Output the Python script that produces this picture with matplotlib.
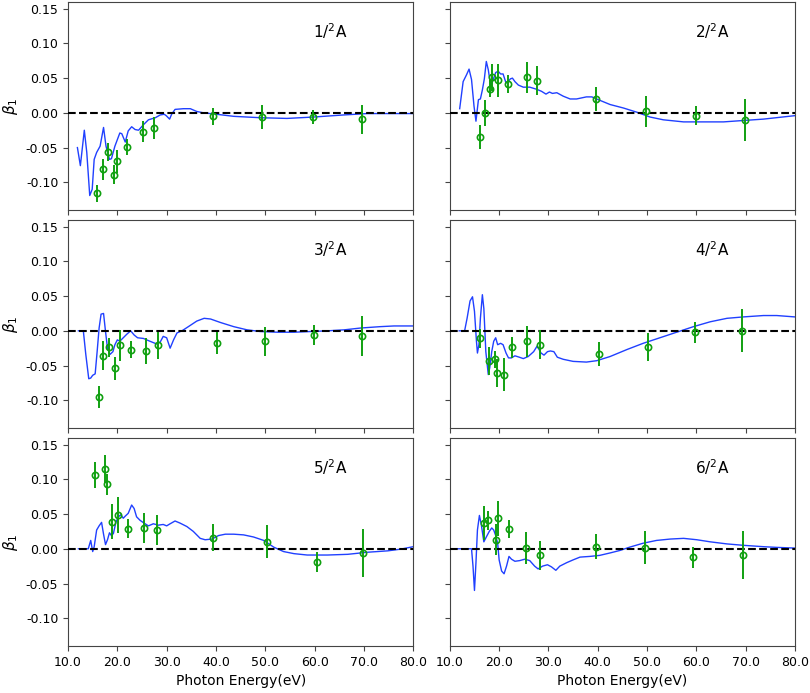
import matplotlib
matplotlib.use("Agg")
from matplotlib import pyplot as plt
from matplotlib.ticker import FormatStrFormatter, MultipleLocator

plt.rcParams["axes.unicode_minus"] = False

LABELS = ["1/$^2$A", "2/$^2$A", "3/$^2$A", "4/$^2$A", "5/$^2$A", "6/$^2$A"]

# --- panel 1 ---
exp_e1 = [15.9, 17.0, 18.1, 19.4, 20.0, 22.0, 25.1, 27.5, 39.4, 49.3, 59.6, 69.7]
exp_b1 = [-0.116, -0.081, -0.056, -0.089, -0.070, -0.049, -0.027, -0.022, -0.005, -0.006, -0.006, -0.009]
exp_err1 = [0.012, 0.015, 0.013, 0.014, 0.017, 0.011, 0.015, 0.016, 0.012, 0.017, 0.010, 0.021]
th_e1 = [11.9, 12.5, 13.3, 13.8, 14.4, 14.9, 15.3, 15.8, 16.5, 17.2, 17.7, 18.4, 18.8, 19.5,
         20.5, 20.9, 21.6, 22.2, 22.9, 23.6, 24.3, 25.3, 26.3, 27.7, 28.7, 29.5, 29.9, 30.6,
         31.0, 31.7, 33.4, 34.8, 36.1, 37.5, 39.5, 43.6, 49.0, 54.4, 59.8, 65.9, 70.7, 80.0]
th_b1 = [-0.050, -0.076, -0.025, -0.057, -0.119, -0.110, -0.067, -0.057, -0.048, -0.021,
         -0.048, -0.067, -0.066, -0.048, -0.029, -0.030, -0.042, -0.026, -0.020, -0.024,
         -0.025, -0.017, -0.010, -0.007, -0.003, -0.002, -0.004, -0.009, -0.002, 0.005,
         0.006, 0.006, 0.002, 0.000, -0.0015, -0.005, -0.007, -0.008, -0.006, -0.003,
         -0.001, -0.001]

# --- panel 2 ---
exp_e2 = [16.2, 17.1, 18.1, 18.6, 19.8, 21.7, 25.6, 27.6, 39.6, 49.7, 59.9, 69.9]
exp_b2 = [-0.035, 0.000, 0.035, 0.051, 0.047, 0.041, 0.051, 0.046, 0.020, 0.002, -0.004, -0.010]
exp_err2 = [0.017, 0.019, 0.012, 0.019, 0.024, 0.013, 0.022, 0.021, 0.017, 0.022, 0.014, 0.030]
th_e2 = [12.0, 12.7, 13.4, 13.9, 14.4, 14.9, 15.3, 15.8, 16.2, 16.6, 17.0, 17.4, 17.8, 18.3,
         18.8, 19.3, 19.8, 20.3, 20.8, 21.4, 21.8, 22.3, 22.7, 23.2, 23.9, 24.9, 26.2, 27.6,
         28.6, 29.5, 30.2, 30.8, 31.7, 33.0, 34.4, 35.7, 37.7, 38.8, 40.1, 42.5, 45.2, 47.9,
         50.6, 53.3, 57.4, 61.4, 65.5, 69.5, 73.6, 80.0]
th_b2 = [0.006, 0.045, 0.055, 0.063, 0.048, 0.010, -0.012, 0.019, 0.020, 0.033, 0.049, 0.074,
         0.062, 0.038, 0.048, 0.058, 0.060, 0.056, 0.056, 0.043, 0.045, 0.049, 0.050, 0.045,
         0.040, 0.037, 0.037, 0.034, 0.031, 0.027, 0.030, 0.028, 0.029, 0.024, 0.020, 0.020,
         0.023, 0.023, 0.019, 0.012, 0.007, 0.001, -0.006, -0.010, -0.013, -0.013, -0.013,
         -0.011, -0.009, -0.004]

# --- panel 3 ---
exp_e3 = [16.2, 17.0, 18.3, 19.6, 20.5, 22.8, 25.9, 28.2, 40.3, 49.9, 59.8, 69.7]
exp_b3 = [-0.095, -0.036, -0.024, -0.054, -0.021, -0.027, -0.029, -0.021, -0.018, -0.015, -0.006, -0.007]
exp_err3 = [0.016, 0.021, 0.013, 0.017, 0.022, 0.012, 0.019, 0.020, 0.016, 0.021, 0.015, 0.029]
th_e3 = [12.1, 13.1, 13.6, 14.2, 14.6, 15.0, 15.5, 15.9, 16.3, 16.7, 17.2, 17.6, 18.0, 18.5,
         19.1, 19.5, 20.0, 20.5, 21.2, 21.9, 22.7, 23.4, 24.1, 25.3, 26.6, 28.0, 28.7, 29.3,
         30.0, 30.7, 31.4, 32.1, 33.1, 34.4, 36.1, 37.6, 38.9, 40.9, 43.6, 46.3, 49.0, 52.4,
         55.8, 59.2, 62.6, 66.0, 69.3, 73.3, 76.1, 80.0]
th_b3 = [0.000, 0.000, -0.034, -0.069, -0.068, -0.064, -0.062, -0.030, 0.004, 0.024, 0.025,
         -0.001, -0.025, -0.034, -0.030, -0.020, -0.013, -0.015, -0.010, -0.005, 0.000, -0.006,
         -0.010, -0.011, -0.015, -0.019, -0.016, -0.008, -0.010, -0.025, -0.013, -0.003, 0.000,
         0.006, 0.014, 0.018, 0.017, 0.012, 0.006, 0.0014, -0.001, -0.002, -0.002, -0.001,
         0.000, 0.0014, 0.004, 0.006, 0.007, 0.007]

# --- panel 4 ---
exp_e4 = [16.2, 17.9, 19.1, 19.5, 21.0, 22.7, 25.6, 28.3, 40.3, 50.2, 59.8, 69.3]
exp_b4 = [-0.011, -0.043, -0.041, -0.061, -0.063, -0.024, -0.015, -0.020, -0.033, -0.023, -0.002, 0.000]
exp_err4 = [0.014, 0.020, 0.012, 0.020, 0.024, 0.015, 0.022, 0.021, 0.017, 0.020, 0.015, 0.031]
th_e4 = [11.9, 13.0, 13.5, 14.1, 14.6, 15.0, 15.4, 15.6, 15.9, 16.2, 16.6, 16.9, 17.3, 17.8,
         18.1, 18.5, 18.9, 19.3, 19.7, 20.3, 20.8, 21.4, 21.9, 22.5, 23.2, 24.1, 24.9, 25.9,
         27.0, 27.7, 28.5, 29.1, 29.8, 30.4, 31.1, 31.8, 33.0, 35.0, 37.7, 39.8, 42.5, 45.9,
         49.2, 52.6, 56.0, 59.4, 62.8, 66.2, 69.5, 73.6, 76.3, 80.0]
th_b4 = [0.000, 0.000, 0.018, 0.043, 0.049, 0.028, -0.015, -0.032, -0.020, 0.018, 0.052,
         0.032, -0.030, -0.063, -0.053, -0.030, -0.015, -0.010, -0.020, -0.018, -0.020, -0.032,
         -0.039, -0.039, -0.036, -0.038, -0.040, -0.037, -0.030, -0.022, -0.032, -0.035,
         -0.030, -0.029, -0.030, -0.038, -0.041, -0.044, -0.045, -0.043, -0.037, -0.027,
         -0.018, -0.010, -0.002, 0.006, 0.013, 0.018, 0.020, 0.022, 0.022, 0.020]

# --- panel 5 ---
exp_e5 = [15.5, 17.5, 17.8, 19.0, 20.1, 22.2, 25.4, 28.1, 39.4, 50.3, 60.4, 69.9]
exp_b5 = [0.106, 0.115, 0.093, 0.039, 0.048, 0.029, 0.030, 0.027, 0.016, 0.010, -0.019, -0.006]
exp_err5 = [0.019, 0.020, 0.015, 0.025, 0.026, 0.014, 0.021, 0.022, 0.019, 0.024, 0.015, 0.034]
th_e5 = [12.1, 14.1, 14.6, 15.0, 15.3, 15.8, 16.3, 16.8, 17.2, 17.6, 18.0, 18.4, 18.8, 19.2,
         19.7, 20.2, 20.7, 21.2, 21.6, 22.2, 22.9, 23.4, 23.9, 24.6, 25.4, 26.3, 27.3, 28.3,
         29.3, 30.0, 30.7, 31.7, 32.7, 34.1, 35.4, 36.8, 37.8, 39.2, 40.5, 41.9, 43.6, 45.6,
         47.6, 49.7, 51.7, 53.7, 55.8, 58.5, 62.6, 66.7, 70.7, 74.8, 77.5, 80.0]
th_b5 = [0.000, 0.000, 0.012, -0.004, 0.003, 0.027, 0.033, 0.038, 0.021, 0.006, 0.013, 0.023,
         0.019, 0.022, 0.038, 0.046, 0.049, 0.044, 0.047, 0.051, 0.063, 0.058, 0.046, 0.041,
         0.037, 0.033, 0.036, 0.034, 0.035, 0.033, 0.036, 0.040, 0.037, 0.032, 0.025, 0.015,
         0.013, 0.014, 0.019, 0.021, 0.021, 0.020, 0.017, 0.012, 0.0024, -0.004, -0.007,
         -0.009, -0.009, -0.008, -0.005, -0.003, -0.0005, 0.003]

# --- panel 6 ---
exp_e6 = [16.9, 17.7, 19.3, 19.7, 22.0, 25.5, 28.3, 39.6, 49.6, 59.4, 69.5]
exp_b6 = [0.037, 0.041, 0.013, 0.044, 0.029, 0.0014, -0.0095, 0.003, 0.0014, -0.012, -0.009]
exp_err6 = [0.024, 0.014, 0.022, 0.025, 0.013, 0.023, 0.021, 0.018, 0.024, 0.015, 0.034]
th_e6 = [11.0, 14.4, 14.7, 15.0, 15.3, 15.6, 16.0, 16.4, 16.9, 17.4, 18.0, 18.5, 18.9, 19.3,
         19.7, 20.0, 20.5, 21.0, 21.5, 22.0, 22.5, 23.2, 24.2, 25.2, 26.2, 27.2, 27.9, 28.8,
         29.8, 30.6, 31.5, 32.3, 33.7, 35.0, 36.4, 38.4, 40.4, 42.5, 44.5, 46.5, 49.2, 51.9,
         54.7, 57.4, 60.1, 62.8, 66.2, 69.5, 73.6, 76.3, 80.0]
th_b6 = [0.000, 0.000, -0.025, -0.060, -0.020, 0.027, 0.048, 0.034, 0.010, 0.017, 0.025,
         0.030, 0.027, 0.019, 0.008, -0.016, -0.032, -0.036, -0.025, -0.011, -0.015, -0.018,
         -0.017, -0.015, -0.017, -0.025, -0.029, -0.025, -0.023, -0.026, -0.031, -0.025,
         -0.020, -0.016, -0.012, -0.011, -0.0095, -0.006, -0.0024, 0.0024, 0.008, 0.012,
         0.014, 0.015, 0.013, 0.010, 0.007, 0.005, 0.003, 0.002, 0.001]

PANELS = [
    (exp_e1, exp_b1, exp_err1, th_e1, th_b1),
    (exp_e2, exp_b2, exp_err2, th_e2, th_b2),
    (exp_e3, exp_b3, exp_err3, th_e3, th_b3),
    (exp_e4, exp_b4, exp_err4, th_e4, th_b4),
    (exp_e5, exp_b5, exp_err5, th_e5, th_b5),
    (exp_e6, exp_b6, exp_err6, th_e6, th_b6),
]

LINE_BLUE = "#2040ff"
EXP_GREEN = "#10a010"
FRAME = "#444444"


def plot_panel(axis, panel, label):
    """
    theory curve, experimental points with error bars and the zero line
    """
    exp_e, exp_b, exp_err, th_e, th_b = panel
    axis.axhline(0, color="black", linestyle="--", linewidth=1.5, zorder=3)
    axis.plot(th_e, th_b, color=LINE_BLUE, linewidth=1.0, zorder=2)
    axis.errorbar(exp_e, exp_b, yerr=exp_err, fmt="o", color=EXP_GREEN, mfc="none",
                  mec=EXP_GREEN, ms=4.5, mew=1.2, elinewidth=1.4, capsize=0, zorder=4)
    axis.text(63.2, 0.118, label, fontsize=11, ha="center", va="center")
    axis.set_xlim(10, 80)
    axis.set_ylim(-0.14, 0.16)
    axis.xaxis.set_major_locator(MultipleLocator(10))
    axis.yaxis.set_major_locator(MultipleLocator(0.05))
    axis.xaxis.set_major_formatter(FormatStrFormatter("%.1f"))
    axis.yaxis.set_major_formatter(FormatStrFormatter("%.2f"))
    axis.tick_params(labelsize=9, color=FRAME)
    for spine in axis.spines.values():
        spine.set_color(FRAME)


def main():
    fig, axes = plt.subplots(3, 2, figsize=(8.1, 6.93), dpi=100)
    fig.subplots_adjust(left=0.084, right=0.9815, top=0.9975, bottom=0.0678,
                        wspace=0.106, hspace=0.046)

    for i, axis in enumerate(axes.flat):
        plot_panel(axis, PANELS[i], LABELS[i])
        row, col = divmod(i, 2)
        if col == 0:
            axis.set_ylabel(r"$\beta_1$", fontsize=11)
        else:
            axis.tick_params(labelleft=False)
        if row < 2:
            axis.tick_params(labelbottom=False)
        else:
            axis.set_xlabel("Photon Energy(eV)", fontsize=10)

    fig.savefig("out.png", dpi=100)


if __name__ == "__main__":
    main()
